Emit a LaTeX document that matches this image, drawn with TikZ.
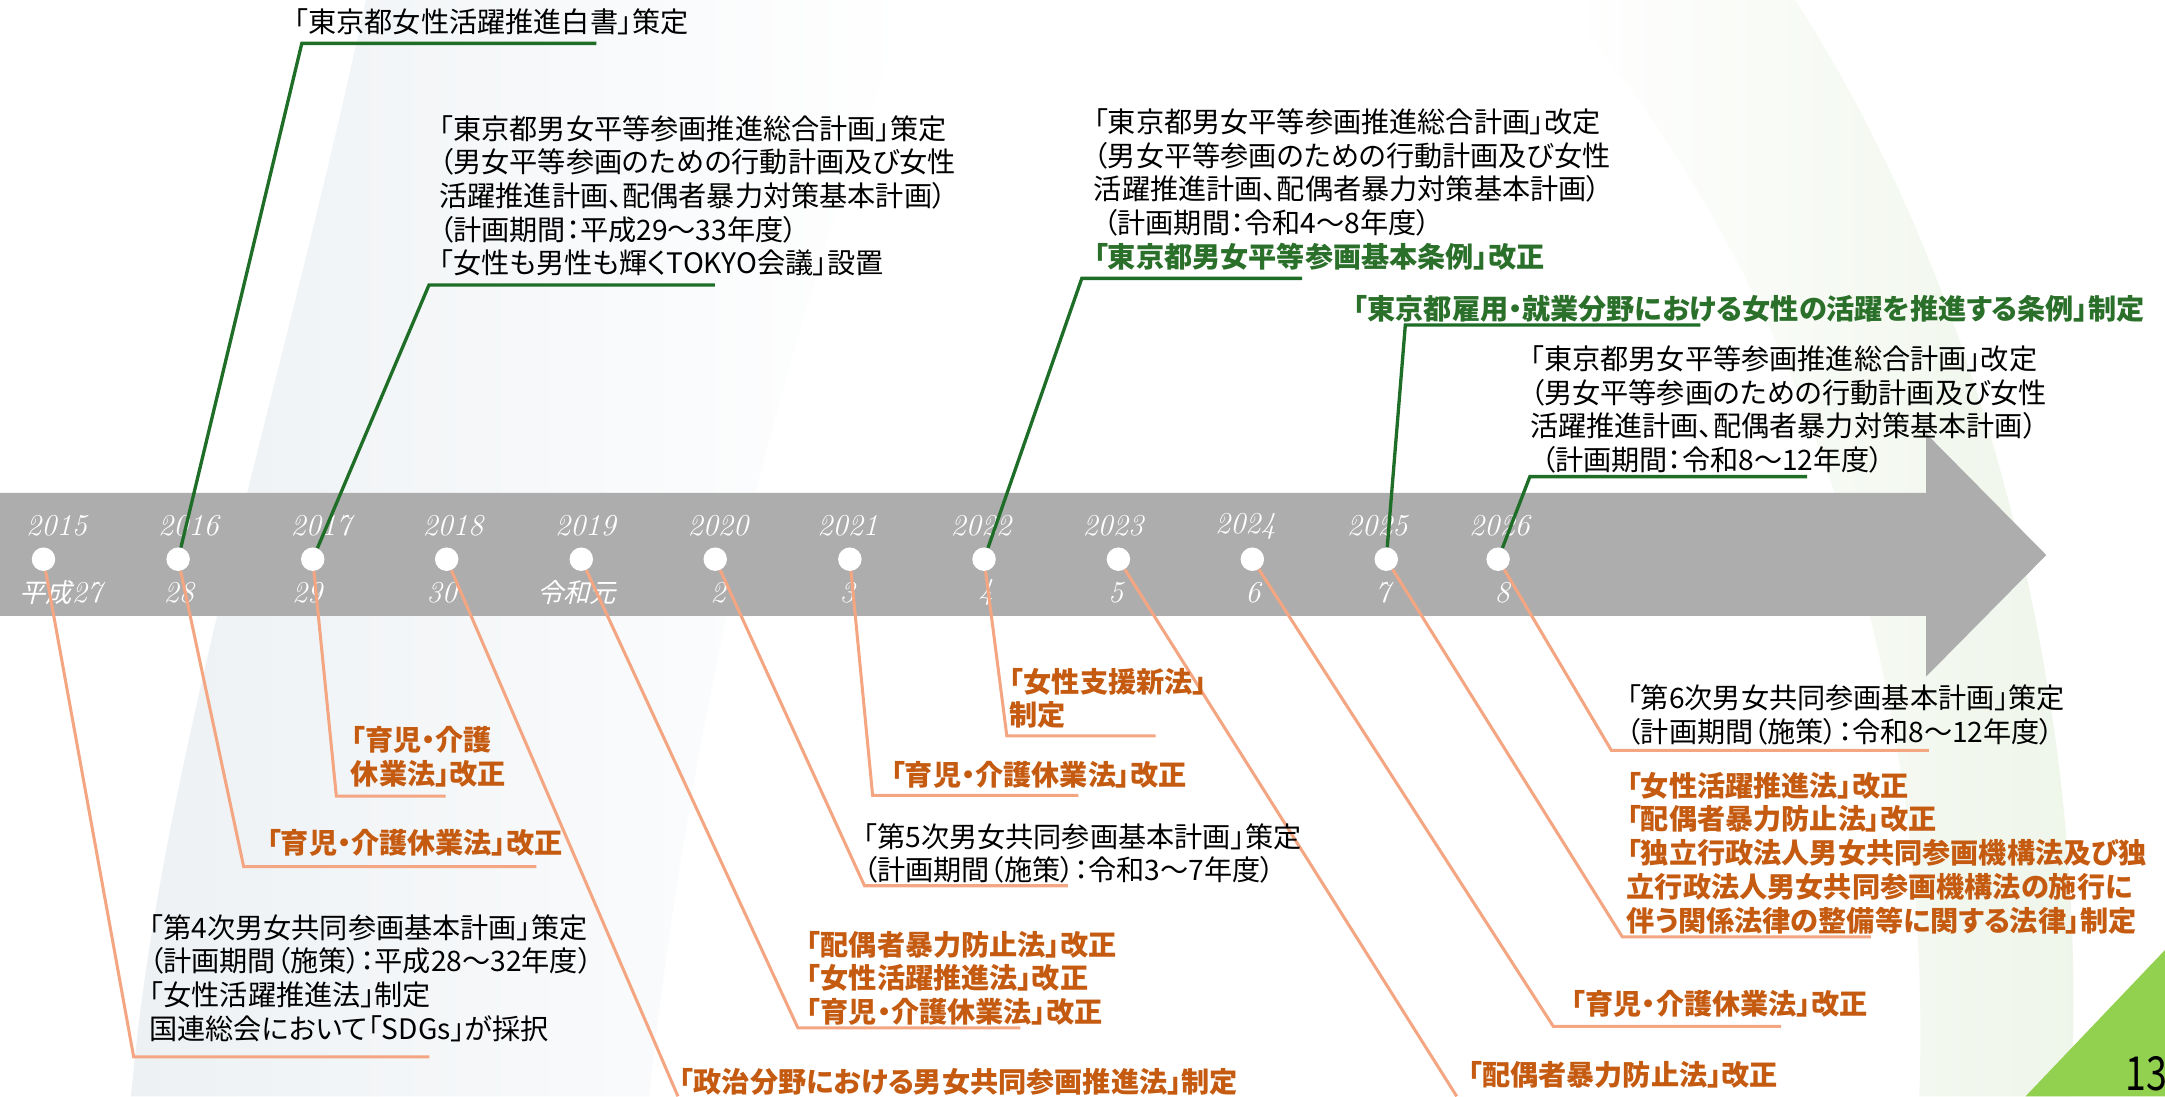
\documentclass[tikz,border=0pt]{standalone}
\usepackage{fontspec}
\newfontfamily\jp[RawFeature=+palt]{Noto Sans CJK JP}
\newfontfamily\jpit[FakeSlant=0.25]{Noto Sans CJK JP}
\newfontfamily\jpn[FakeStretch=0.8]{Noto Sans CJK JP}
\definecolor{barGray}{HTML}{ADADAD}
\definecolor{lineGreen}{HTML}{1E6E28}
\definecolor{txtGreen}{HTML}{2A6F2A}
\definecolor{txtOrange}{HTML}{C55A11}
\definecolor{lineOrange}{HTML}{F4A682}
\definecolor{pageGreen}{HTML}{92D050}
\definecolor{swooshBlue}{HTML}{EDF1F4}
\definecolor{swooshGreen}{HTML}{EEF5E9}
\tikzset{
  dot/.style={circle, fill=white, minimum size=17pt, inner sep=0pt},
  yr/.style={text=white, inner sep=0pt, font=\fontsize{22}{24}\selectfont\itshape},
  yrl/.style={text=white, inner sep=0pt, font=\fontsize{22}{24}\selectfont\itshape},
  txt/.style={anchor=base west, align=left, inner sep=0pt, text=black,
              font=\fontsize{20.4}{24.4}\selectfont\jp},
  otxt/.style={txt, text=txtOrange, font=\fontsize{20.4}{24.4}\selectfont\jp\bfseries},
  gtxt/.style={txt, text=txtGreen, font=\fontsize{20.4}{24.4}\selectfont\jp\bfseries},
  gline/.style={draw=lineGreen, line width=2.4pt},
  oline/.style={draw=lineOrange, line width=2.2pt},
}
\begin{document}
\begin{tikzpicture}[x=1pt,y=-1pt]
\useasboundingbox (0,0) rectangle (1568,794);
\fill[white] (0,0) rectangle (1568,794);
% background swooshes
\path[left color=swooshBlue, right color=white]
  (265,0) .. controls (200,300) and (115,560) .. (95,794)
  -- (470,794) .. controls (500,520) and (560,260) .. (660,0) -- cycle;
\path[left color=white, right color=swooshGreen]
  (1130,0) .. controls (1320,220) and (1400,520) .. (1390,794)
  -- (1500,794) .. controls (1515,500) and (1430,200) .. (1300,0) -- cycle;
% timeline arrow
\fill[barGray] (0,357) -- (1395,357) -- (1395,314) -- (1482,402)
  -- (1395,490) -- (1395,446) -- (0,446) -- cycle;
% page corner
\fill[pageGreen] (1467,794) -- (1568,794) -- (1568,688) -- cycle;
\node[anchor=base east, inner sep=0pt, font=\fontsize{34}{36}\selectfont\jpn] (pg) at (1570,790) {13};
% dots
\node[dot] (d15) at (31.5,405) {};
\node[dot] (d16) at (129,405) {};
\node[dot] (d17) at (226.5,405) {};
\node[dot] (d18) at (323.5,405) {};
\node[dot] (d19) at (421,405) {};
\node[dot] (d20) at (518,405) {};
\node[dot] (d21) at (615.5,405) {};
\node[dot] (d22) at (712.7,405) {};
\node[dot] (d23) at (810,405) {};
\node[dot] (d24) at (907,405) {};
\node[dot] (d25) at (1004,405) {};
\node[dot] (d26) at (1085,405) {};
% year labels
\node[yr] (y15) at (41,381) {2015};
\node[yr] (y16) at (136.5,381) {2016};
\node[yr] (y17) at (232.5,381) {2017};
\node[yr] (y18) at (328,381) {2018};
\node[yr] (y19) at (424,381) {2019};
\node[yr] (y20) at (520,381) {2020};
\node[yr] (y21) at (614,381) {2021};
\node[yr] (y22) at (710.5,381) {2022};
\node[yr] (y23) at (806,381) {2023};
\node[yr] (y24) at (902,381) {2024};
\node[yr] (y25) at (997.5,381) {2025};
\node[yr] (y26) at (1086,381) {2026};
% era labels
\node[yrl] (h15) at (44,429) {{\fontsize{19}{22}\selectfont\jpit 平成}27};
\node[yrl] (h16) at (129.5,429) {28};
\node[yrl] (h17) at (222.5,429) {29};
\node[yrl] (h18) at (320,429) {30};
\node[yrl] (h19) at (417.5,429) {{\fontsize{19}{22}\selectfont\jpit 令和元}};
\node[yrl] (h20) at (520,429) {2};
\node[yrl] (h21) at (613.5,429) {3};
\node[yrl] (h22) at (714,429) {4};
\node[yrl] (h23) at (808,429) {5};
\node[yrl] (h24) at (907.5,429) {6};
\node[yrl] (h25) at (1001.5,429) {7};
\node[yrl] (h26) at (1088,429) {8};
% connector bend points
\coordinate (g16a) at (218.6,31.4);  \coordinate (g16b) at (432,31.4);
\coordinate (g17a) at (310.7,206.4); \coordinate (g17b) at (517.8,206.4);
\coordinate (g22a) at (783.5,201.6); \coordinate (g22b) at (943,201.6);
\coordinate (g25a) at (1017.8,235.4);\coordinate (g25b) at (1231.5,235.4);
\coordinate (g26a) at (1108,345.2);  \coordinate (g26b) at (1308.8,345.2);
\coordinate (o15a) at (96.8,765.4);  \coordinate (o15b) at (311,765.4);
\coordinate (o16a) at (176.5,627.7); \coordinate (o16b) at (388.4,627.7);
\coordinate (o17a) at (243.6,576.6); \coordinate (o17b) at (322.8,576.6);
\coordinate (o18a) at (491,794);
\coordinate (o19a) at (577.9,744.5); \coordinate (o19b) at (739,744.5);
\coordinate (o20a) at (626.1,641.5); \coordinate (o20b) at (773.4,641.5);
\coordinate (o21a) at (632,576);     \coordinate (o21b) at (781,576);
\coordinate (o22a) at (729.2,533);   \coordinate (o22b) at (837,533);
\coordinate (o23a) at (1055,794);
\coordinate (o24a) at (1125,743.4);  \coordinate (o24b) at (1290,743.4);
\coordinate (o25a) at (1175,678.6);  \coordinate (o25b) at (1355,678.6);
\coordinate (o26a) at (1167,543.4);  \coordinate (o26b) at (1397,543.4);
% green connectors
\draw[gline] (d16) -- (g16a) -- (g16b);
\draw[gline] (d17) -- (g17a) -- (g17b);
\draw[gline] (d22) -- (g22a) -- (g22b);
\draw[gline] (d25) -- (g25a) -- (g25b);
\draw[gline] (d26) -- (g26a) -- (g26b);
% orange connectors
\draw[oline] (d15) -- (o15a) -- (o15b);
\draw[oline] (d16) -- (o16a) -- (o16b);
\draw[oline] (d17) -- (o17a) -- (o17b);
\draw[oline] (d18) -- (o18a);
\draw[oline] (d19) -- (o19a) -- (o19b);
\draw[oline] (d20) -- (o20a) -- (o20b);
\draw[oline] (d21) -- (o21a) -- (o21b);
\draw[oline] (d22) -- (o22a) -- (o22b);
\draw[oline] (d23) -- (o23a);
\draw[oline] (d24) -- (o24a) -- (o24b);
\draw[oline] (d25) -- (o25a) -- (o25b);
\draw[oline] (d26) -- (o26a) -- (o26b);
% upper texts (anchor = baseline of the last line)
\node[txt] (t1) at (213,23.5) {「東京都女性活躍推進白書」策定};
\node[txt] (t2) at (318,198.4) {「東京都男女平等参画推進総合計画」策定\\（男女平等参画のための行動計画及び女性\\活躍推進計画、配偶者暴力対策基本計画）\\（計画期間：平成29～33年度）\\「女性も男性も輝くTOKYO会議」設置};
\node[txt] (t3) at (792,193.6) {「東京都男女平等参画推進総合計画」改定\\（男女平等参画のための行動計画及び女性\\活躍推進計画、配偶者暴力対策基本計画）\\\hspace*{7pt}（計画期間：令和4～8年度）\\{\color{txtGreen}\bfseries「東京都男女平等参画基本条例」改正}};
\node[gtxt] (t4) at (980,231.1) {「東京都雇用・就業分野における女性の活躍を推進する条例」制定};
\node[txt] (t5) at (1108,340.7) {「東京都男女平等参画推進総合計画」改定\\（男女平等参画のための行動計画及び女性\\活躍推進計画、配偶者暴力対策基本計画）\\\hspace*{8pt}（計画期間：令和8～12年度）};
% lower texts
\node[txt] (b1) at (108,752.6) {「第4次男女共同参画基本計画」策定\\（計画期間（施策）：平成28～32年度）\\「女性活躍推進法」制定\\国連総会において「SDGs」が採択};
\node[otxt] (b2) at (193,618.4) {「育児・介護休業法」改正};
\node[otxt] (b3) at (254,567.9) {「育児・介護\\休業法」改正};
\node[otxt] (b4) at (492,791) {「政治分野における男女共同参画推進法」制定};
\node[otxt] (b5) at (584,740.5) {「配偶者暴力防止法」改正\\「女性活躍推進法」改正\\「育児・介護休業法」改正};
\node[txt] (b6) at (625,637.9) {「第5次男女共同参画基本計画」策定\\（計画期間（施策）：令和3～7年度）};
\node[otxt] (b7) at (645,569) {「育児・介護休業法」改正};
\node[otxt] (b8) at (731,525.6) {「女性支援新法」\\制定};
\node[otxt] (b9) at (1063,786.1) {「配偶者暴力防止法」改正};
\node[otxt] (b10) at (1138,734.5) {「育児・介護休業法」改正};
\node[otxt] (b11) at (1178,674.3) {「女性活躍推進法」改正\\「配偶者暴力防止法」改正\\「独立行政法人男女共同参画機構法及び独\\立行政法人男女共同参画機構法の施行に\\伴う関係法律の整備等に関する法律」制定};
\node[txt] (b12) at (1178,537.6) {「第6次男女共同参画基本計画」策定\\（計画期間（施策）：令和8～12年度）};
\end{tikzpicture}
\end{document}
